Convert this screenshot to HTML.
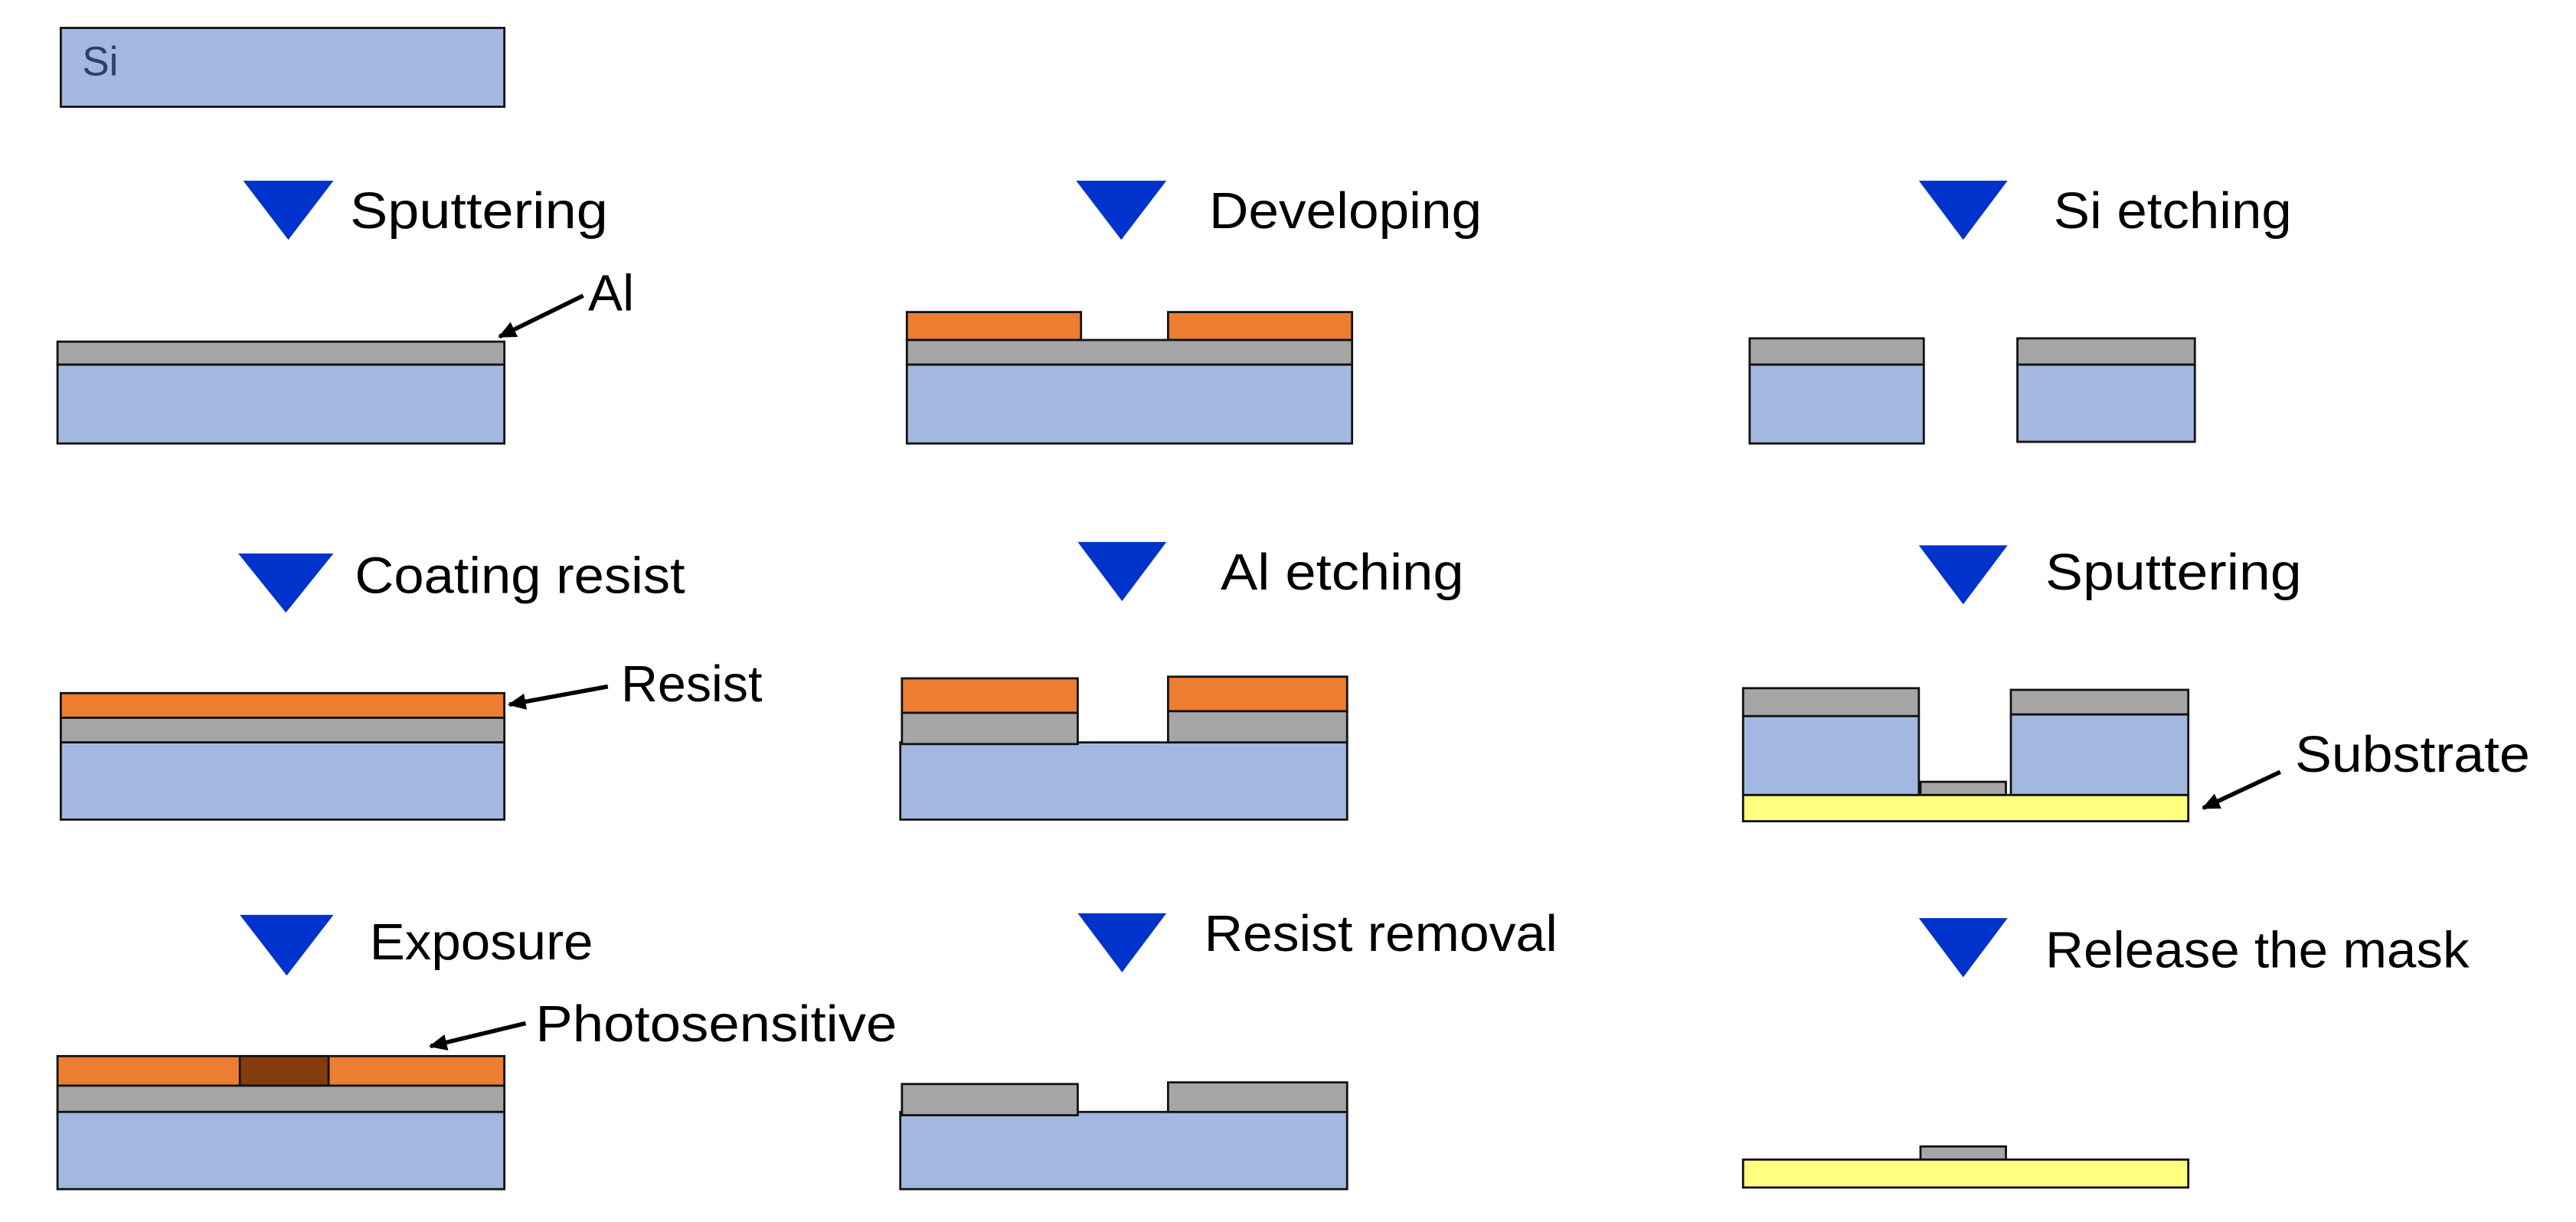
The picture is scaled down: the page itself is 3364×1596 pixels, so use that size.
<!DOCTYPE html>
<html><head><meta charset="utf-8"><style>html,body{margin:0;padding:0;background:#fff;}svg{display:block}</style></head>
<body>
<svg width="3364" height="1596" viewBox="0 0 1568 744" preserveAspectRatio="none" xmlns="http://www.w3.org/2000/svg" font-family="Liberation Sans, sans-serif">
<defs><marker id="ah" markerWidth="11" markerHeight="10" refX="10" refY="5" orient="auto" markerUnits="userSpaceOnUse"><path d="M0,0 L11,5 L0,10 z" fill="#000"/></marker></defs>
<g stroke="#111" stroke-width="1.3">
<rect x="37" y="17" width="270" height="48" fill="#a2b8e0"/>
<rect x="35" y="208" width="272" height="14" fill="#a5a5a5"/>
<rect x="35" y="222" width="272" height="48" fill="#a2b8e0"/>
<rect x="37" y="422" width="270" height="15" fill="#ed7d31"/>
<rect x="37" y="437" width="270" height="15" fill="#a5a5a5"/>
<rect x="37" y="452" width="270" height="47" fill="#a2b8e0"/>
<rect x="35" y="643" width="272" height="18" fill="#ed7d31"/>
<rect x="146" y="643" width="54" height="18" fill="#843c0c"/>
<rect x="35" y="661" width="272" height="16" fill="#a5a5a5"/>
<rect x="35" y="677" width="272" height="47" fill="#a2b8e0"/>
<rect x="552" y="190" width="106" height="17" fill="#ed7d31"/>
<rect x="711" y="190" width="112" height="17" fill="#ed7d31"/>
<rect x="552" y="207" width="271" height="15" fill="#a5a5a5"/>
<rect x="552" y="222" width="271" height="48" fill="#a2b8e0"/>
<rect x="548" y="452" width="272" height="47" fill="#a2b8e0"/>
<rect x="549" y="413" width="107" height="21" fill="#ed7d31"/>
<rect x="711" y="412" width="109" height="21" fill="#ed7d31"/>
<rect x="549" y="434" width="107" height="19" fill="#a5a5a5"/>
<rect x="711" y="433" width="109" height="19" fill="#a5a5a5"/>
<rect x="548" y="677" width="272" height="47" fill="#a2b8e0"/>
<rect x="549" y="660" width="107" height="19" fill="#a5a5a5"/>
<rect x="711" y="659" width="109" height="18" fill="#a5a5a5"/>
<rect x="1065" y="206" width="106" height="16" fill="#a5a5a5"/>
<rect x="1065" y="222" width="106" height="48" fill="#a2b8e0"/>
<rect x="1228" y="206" width="108" height="16" fill="#a5a5a5"/>
<rect x="1228" y="222" width="108" height="47" fill="#a2b8e0"/>
<rect x="1061" y="484" width="271" height="16" fill="#ffff80"/>
<rect x="1061" y="419" width="107" height="17" fill="#a5a5a5"/>
<rect x="1061" y="436" width="107" height="48" fill="#a2b8e0"/>
<rect x="1224" y="420" width="108" height="15" fill="#a5a5a5"/>
<rect x="1224" y="435" width="108" height="49" fill="#a2b8e0"/>
<rect x="1169" y="476" width="52" height="8" fill="#a5a5a5"/>
<rect x="1169" y="698" width="52" height="8" fill="#a5a5a5"/>
<rect x="1061" y="706" width="271" height="17" fill="#ffff80"/>
</g>
<g fill="#0033cc">
<polygon points="148,110 203,110 175.5,146"/>
<polygon points="655,110 710,110 682.5,146"/>
<polygon points="1168,110 1222,110 1195,146"/>
<polygon points="145,337 203,337 174,373"/>
<polygon points="656,330 710,330 683,366"/>
<polygon points="1168,332 1222,332 1195,368"/>
<polygon points="146,557 203,557 174.5,594"/>
<polygon points="656,556 710,556 683,592"/>
<polygon points="1168,559 1222,559 1195,595"/>
</g>
<g stroke="#000" stroke-width="2.6" marker-end="url(#ah)">
<line x1="355" y1="180" x2="304" y2="205"/>
<line x1="370" y1="418" x2="310" y2="429"/>
<line x1="320" y1="623" x2="262" y2="637"/>
<line x1="1388" y1="470" x2="1341" y2="492"/>
</g>
<text x="50" y="46" font-size="25" fill="#2f3f6a" textLength="22" lengthAdjust="spacingAndGlyphs">Si</text>
<g font-size="31" fill="#000">
<text x="213" y="139" textLength="157" lengthAdjust="spacingAndGlyphs">Sputtering</text>
<text x="736" y="139" textLength="166" lengthAdjust="spacingAndGlyphs">Developing</text>
<text x="1250" y="139" textLength="145" lengthAdjust="spacingAndGlyphs">Si etching</text>
<text x="358" y="189" textLength="28" lengthAdjust="spacingAndGlyphs">Al</text>
<text x="216" y="361" textLength="201" lengthAdjust="spacingAndGlyphs">Coating resist</text>
<text x="743" y="359" textLength="148" lengthAdjust="spacingAndGlyphs">Al etching</text>
<text x="1245" y="359" textLength="156" lengthAdjust="spacingAndGlyphs">Sputtering</text>
<text x="378" y="427" textLength="86" lengthAdjust="spacingAndGlyphs">Resist</text>
<text x="1397" y="470" textLength="143" lengthAdjust="spacingAndGlyphs">Substrate</text>
<text x="225" y="584" textLength="136" lengthAdjust="spacingAndGlyphs">Exposure</text>
<text x="733" y="579" textLength="215" lengthAdjust="spacingAndGlyphs">Resist removal</text>
<text x="1245" y="589" textLength="258" lengthAdjust="spacingAndGlyphs">Release the mask</text>
<text x="326" y="634" textLength="220" lengthAdjust="spacingAndGlyphs">Photosensitive</text>
</g>
</svg>
</body></html>
